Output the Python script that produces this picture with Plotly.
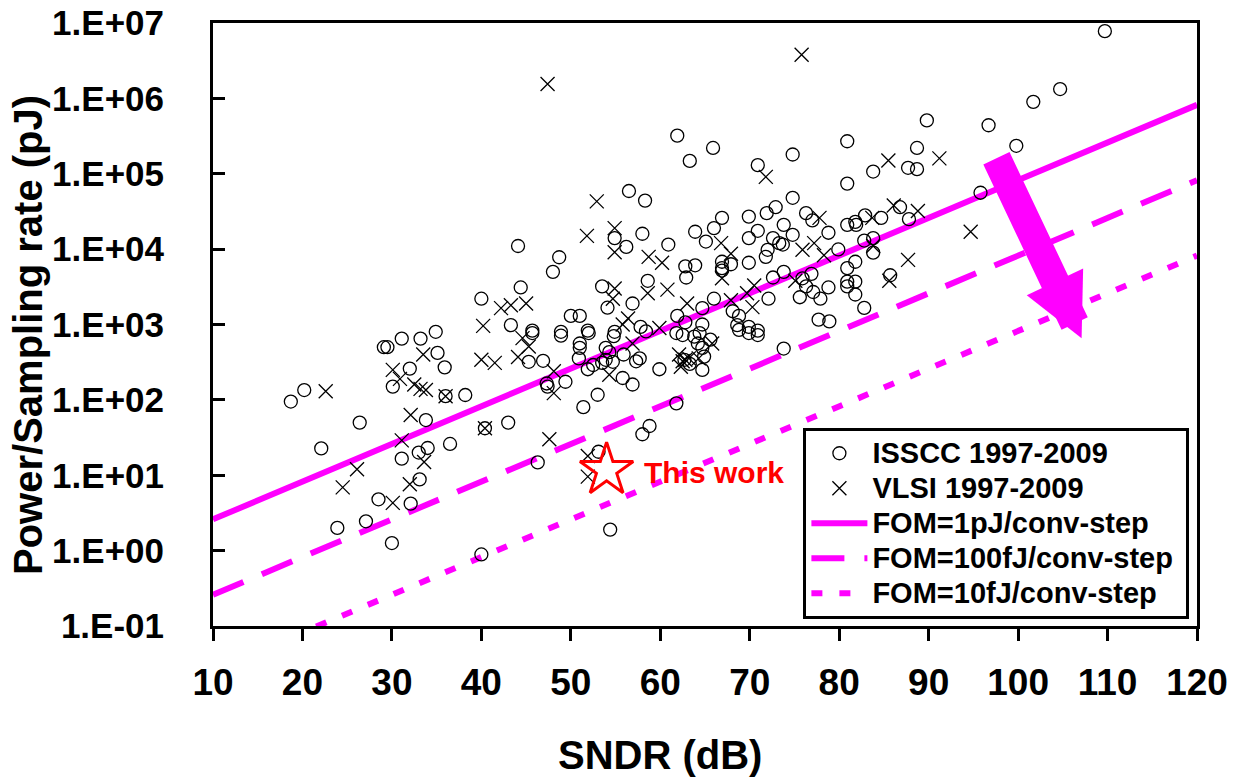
import plotly.graph_objects as go

# ---------------- data ----------------
isscc_sndr = [61.9, 63.3, 56.5, 58.3, 54.9, 56.2, 58.0, 60.9, 63.9, 65.1, 62.8, 63.9, 62.9,
              44.1, 48.7, 48.0, 44.4, 40.0, 53.5, 58.6, 54.1, 56.9, 64.7, 50.0, 51.0, 43.3,
              45.7, 48.9, 51.9, 54.9, 57.8, 61.9, 62.8, 64.7,
              89.8, 65.9, 80.9, 88.7, 74.8, 70.9, 80.9, 83.8, 87.7, 88.7, 74.8, 72.9, 71.9,
              69.9, 66.9, 66.0, 76.3, 77.0, 73.8, 70.9, 69.9, 78.8, 80.9, 81.8, 81.9, 82.9,
              84.7, 86.8, 87.8, 72.6, 73.7, 73.3, 74.8, 72.0, 71.8, 66.9, 66.9, 66.9, 67.9,
              69.9, 79.9, 82.8, 83.8, 83.8, 80.9, 81.8, 80.9, 80.9, 81.8, 81.8, 82.8, 85.7,
              73.8, 72.6, 75.9, 76.3, 76.9, 77.1, 75.6, 77.9, 78.8, 72.1, 66.0, 68.1, 68.8,
              68.6, 69.9, 70.9, 77.7, 78.9,
              109.7, 104.7, 101.7, 96.7, 99.8, 95.8,
              18.7, 20.2, 22.1, 26.4, 23.9, 27.1, 28.5, 30.0, 32.1, 33.1, 33.0, 34.0, 36.5,
              31.1, 33.8, 29.1, 29.5, 31.1, 33.2, 34.9, 35.1, 35.9, 32.0, 30.1, 36.0, 38.2,
              45.3, 45.7, 46.9, 47.3, 47.4, 49.4, 48.9, 51.0, 51.0, 52.0, 50.9, 51.9, 52.5,
              53.0, 51.4, 53.9, 54.8, 53.9, 54.7, 53.5, 54.3, 55.9, 55.8, 56.9, 57.3, 57.7,
              59.9, 62.7, 63.3, 64.2, 64.7, 64.7, 61.8, 58.0, 58.8, 40.4, 43.0, 46.3, 53.1,
              54.4, 40.0, 58.4, 61.8, 62.5, 63.8, 64.4,
              73.8, 64.9, 65.6, 68.8, 69.9, 70.9]
isscc_pfs = [3.2e5, 1.48e5, 5.9e4, 4.4e4, 1.4e4, 1.07e4, 1.6e4, 1.15e4, 1.7e4, 1.26e4, 5.9e3, 6.1e3, 4.2e3,
             1.1e4, 7.8e3, 5.0e3, 3.1e3, 2.2e3, 3.2e3, 3.8e3, 1.67e3, 1.9e3, 1.65e3, 1.3e3, 1.3e3, 980,
             830, 800, 830, 800, 930, 1.3e3, 1.07e3, 1.0e3,
             5.1e5, 2.2e5, 2.7e5, 2.2e5, 1.8e5, 1.3e5, 7.4e4, 1.07e5, 1.2e5, 1.15e5, 4.8e4, 3.6e4, 3.0e4,
             2.7e4, 2.6e4, 1.9e4, 3.0e4, 2.4e4, 2.1e4, 1.75e4, 1.4e4, 1.65e4, 2.1e4, 2.3e4, 2.1e4, 2.8e4,
             2.6e4, 3.6e4, 2.5e4, 1.4e4, 1.15e4, 1.2e4, 1.55e4, 9.8e3, 7.9e3, 6.8e3, 5.6e3, 5.2e3, 6.3e3,
             6.6e3, 9.9e3, 1.3e4, 1.4e4, 9.0e3, 5.6e3, 6.8e3, 3.7e3, 3.2e3, 3.7e3, 2.5e3, 1.66e3, 4.5e3,
             5.0e3, 4.2e3, 4.1e3, 3.2e3, 4.7e3, 2.7e3, 2.3e3, 2.2e3, 3.1e3, 2.2e3, 2.2e3, 1.5e3, 1.3e3,
             980, 930, 830, 1.16e3, 1.1e3,
             7.8e6, 1.33e6, 9.0e5, 4.4e5, 2.35e5, 5.6e4,
             95, 135, 22.7, 50, 2.0, 2.45, 4.8, 1.26, 4.2, 8.8, 20, 23, 26,
             16.6, 54, 500, 500, 650, 650, 800, 420, 270, 260, 150, 112, 116,
             320, 770, 330, 165, 150, 174, 710, 560, 490, 770, 355, 255, 290,
             117, 80, 490, 700, 340, 320, 310, 430, 400, 195, 160, 325, 355,
             255, 340, 300, 560, 490, 250, 90, 35, 45, 42, 50, 14.8, 20.5,
             1.9, 0.89, 810, 770, 725, 690, 770,
             480, 375, 630, 850, 770, 725]

vlsi_sndr = [47.4, 52.9, 51.8, 54.9, 54.9, 58.7, 60.2, 42.2, 43.3, 45.0, 54.9, 58.6, 60.8, 54.7,
             63.0, 56.4, 55.8, 40.2, 59.9,
             75.8, 91.2, 71.8, 85.5, 77.8, 83.7, 86.1, 88.8, 66.8, 67.9, 66.9, 75.9, 77.2, 78.3,
             83.8, 87.7, 85.6, 75.1, 70.5, 69.7, 70.3, 67.9,
             94.7,
             22.6, 26.1, 24.5, 30.1, 32.0, 33.6, 31.1, 32.1, 33.5, 30.1, 30.9, 32.5, 33.2, 33.8, 36.0,
             40.0, 41.5, 44.1, 44.6, 45.3, 48.1, 48.1, 54.3, 56.9, 62.1, 62.5, 62.8, 63.2, 62.3,
             40.4, 47.6, 51.9, 51.9, 64.3, 65.8]
vlsi_pfs = [1.55e6, 4.3e4, 1.5e4, 1.9e4, 9.1e3, 7.9e3, 6.6e3, 1.65e3, 1.8e3, 1.9e3, 3.0e3, 2.6e3, 2.9e3, 2.2e3,
            1.9e3, 1.2e3, 1.0e3, 960, 900,
            3.8e6, 1.6e5, 9.1e4, 1.5e5, 2.6e4, 2.6e4, 3.8e4, 3.2e4, 1.2e4, 8.7e3, 4.1e3, 9.8e3, 1.2e4, 8.3e3,
            1.1e4, 7.2e3, 3.8e3, 3.8e3, 3.3e3, 2.6e3, 1.7e3, 2.1e3,
            1.7e4,
            130, 12, 6.9, 4.3, 7.6, 15, 29, 63, 400, 250, 190, 160, 140, 135, 112,
            340, 310, 370, 660, 510, 240, 123, 215, 560, 400, 325, 340, 355, 275,
            42, 30, 18, 9.6, 355, 560]

fom_sndr = [10, 120]
fom_1pj = [2.6, 8.2e5]
fom_100fj = [0.26, 8.2e4]
fom_10fj = [0.026, 8.2e3]

this_work_sndr = [54.0]
this_work_pfs = [11.7]

x_ticks = [10, 20, 30, 40, 50, 60, 70, 80, 90, 100, 110, 120]
y_tickvals = [1e-1, 1e0, 1e1, 1e2, 1e3, 1e4, 1e5, 1e6, 1e7]
y_ticktext = ["1.E-01", "1.E+00", "1.E+01", "1.E+02", "1.E+03", "1.E+04", "1.E+05", "1.E+06", "1.E+07"]

# ---------------- figure ----------------
FONT = "Liberation Sans, Arial, sans-serif"
MAG = "#FF00FF"


def leg(txt):
    return '<span style="font-size:29px">' + txt + "</span>"


fig = go.Figure()

fig.add_trace(go.Scatter(x=fom_sndr, y=fom_1pj, mode="lines", name=leg("FOM=1pJ/conv-step"),
                         line=dict(color=MAG, width=6), legendrank=3))
fig.add_trace(go.Scatter(x=fom_sndr, y=fom_100fj, mode="lines", name=leg("FOM=100fJ/conv-step&nbsp;"),
                         line=dict(color=MAG, width=6, dash="33px,20px"), legendrank=4))
fig.add_trace(go.Scatter(x=fom_sndr, y=fom_10fj, mode="lines", name=leg("FOM=10fJ/conv-step"),
                         line=dict(color=MAG, width=6, dash="11px,17px"), legendrank=5))

fig.add_trace(go.Scatter(x=isscc_sndr, y=isscc_pfs, mode="markers", name=leg("ISSCC 1997-2009"),
                         marker=dict(symbol="circle-open", size=13, color="black",
                                     line=dict(width=1.3, color="black")), legendrank=1))
fig.add_trace(go.Scatter(x=vlsi_sndr, y=vlsi_pfs, mode="markers", name=leg("VLSI 1997-2009"),
                         marker=dict(symbol="x-thin-open", size=14, color="black",
                                     line=dict(width=1.3, color="black")), legendrank=2))
fig.add_trace(go.Scatter(x=this_work_sndr, y=this_work_pfs, mode="markers", showlegend=False,
                         marker=dict(symbol="star-open", size=40, color="#FF0000",
                                     line=dict(width=3, color="#FF0000"))))

fig.update_xaxes(type="linear", range=[10, 120], tickvals=x_ticks, automargin=False,
                 showline=True, linewidth=3, linecolor="black", mirror=True,
                 ticks="outside", ticklen=12, tickwidth=3, tickcolor="black",
                 showgrid=False, zeroline=False, ticklabelstandoff=10,
                 tickfont=dict(family=FONT, size=37, color="black", weight="bold"))
fig.update_yaxes(type="log", range=[-1, 7], tickvals=y_tickvals, ticktext=y_ticktext, automargin=False,
                 showline=True, linewidth=3, linecolor="black", mirror=True,
                 ticks="inside", ticklen=12, tickwidth=3, tickcolor="black",
                 showgrid=False, zeroline=False, ticklabelstandoff=39,
                 tickfont=dict(family=FONT, size=35, color="black", weight="bold"))

fig.add_annotation(text="This work", x=58.0, y=1.03, xref="x", yref="y",
                   xanchor="left", yanchor="middle", showarrow=False,
                   font=dict(family=FONT, size=30, color="#FF0000", weight="bold"))

# big arrow (tail -> tip)
fig.add_annotation(text="", x=107.1, y=2.818, ax=97.5, ay=5.226,
                   xref="x", yref="y", axref="x", ayref="y",
                   showarrow=True, arrowhead=2, arrowsize=0.43, arrowwidth=29,
                   arrowcolor=MAG, standoff=0)

fig.add_annotation(text="SNDR (dB)", x=0.454, y=-0.214, xref="paper", yref="paper",
                   xanchor="center", yanchor="middle", showarrow=False,
                   font=dict(family=FONT, size=40, color="black", weight="bold"))
fig.add_annotation(text="Power/Sampling rate (pJ)", x=-0.188, y=0.4826, xref="paper", yref="paper",
                   xanchor="center", yanchor="middle", textangle=-90, showarrow=False,
                   font=dict(family=FONT, size=40, color="black", weight="bold"))

fig.update_layout(
    width=1240, height=781,
    margin=dict(l=213, r=43, t=23, b=155),
    paper_bgcolor="white", plot_bgcolor="white",
    showlegend=True,
    legend=dict(x=0.6, y=0.012, xanchor="left", yanchor="bottom",
                bgcolor="white", bordercolor="black", borderwidth=3,
                font=dict(family=FONT, size=24.6, color="black", weight="bold"),
                tracegroupgap=0, itemwidth=56),
)

fig.write_html("out.html")
